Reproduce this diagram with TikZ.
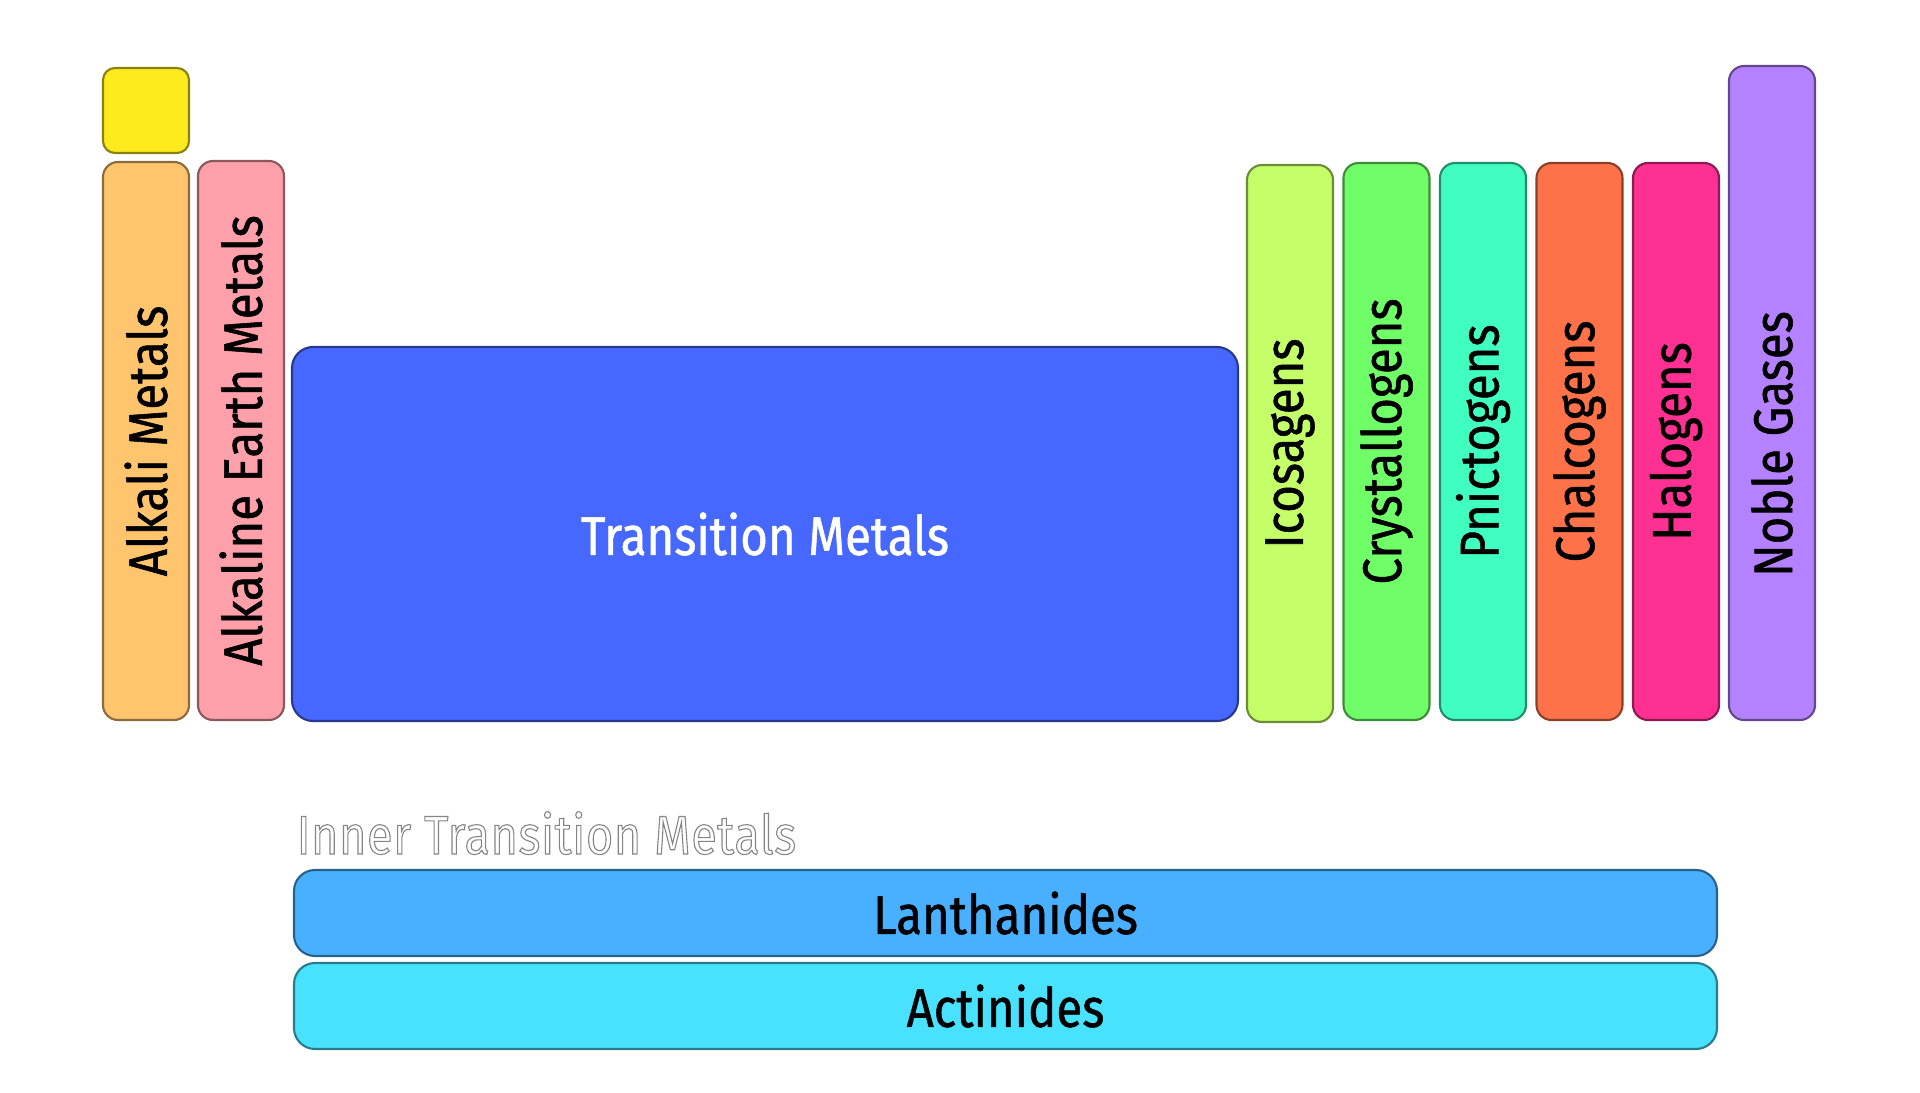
\documentclass[tikz,border=0pt]{standalone}
\usepackage{fontspec}
\setmainfont[FakeStretch=0.87,FakeBold=1.0]{Fira Sans}
\newfontfamily\innerfont[FakeStretch=0.86,LetterSpace=1,FakeBold=2.0]{Fira Sans}
\usetikzlibrary{positioning}
\definecolor{hydrogen}{RGB}{253,235,30}
\definecolor{alkali}{RGB}{254,196,110}
\definecolor{earth}{RGB}{253,160,170}
\definecolor{transition}{RGB}{70,104,254}
\definecolor{icosa}{RGB}{196,254,104}
\definecolor{crystallo}{RGB}{112,254,104}
\definecolor{pnicto}{RGB}{64,254,192}
\definecolor{chalco}{RGB}{254,114,74}
\definecolor{halo}{RGB}{254,48,146}
\definecolor{noble}{RGB}{180,130,254}
\definecolor{lanth}{RGB}{72,176,254}
\definecolor{actin}{RGB}{72,226,254}
\newcommand\hollowtext[1]{{\color{white}\special{pdf:literal direct 0.52 0.52 0.52 RG}#1}}

\begin{document}
\begin{tikzpicture}[x=0.1mm,y=-0.1mm,
  cell/.style={draw=#1!55!black,fill=#1,rounded corners=1.5mm,
               line width=0.6pt,inner sep=0pt},
  bar/.style={cell=#1,rotate=90,minimum height=8.6mm,
              font=\fontsize{15.5}{18}\selectfont},
  wide/.style={cell=#1,rounded corners=2.1mm,minimum width=142.3mm,
               minimum height=8.6mm,font=\fontsize{15.5}{18}\selectfont}
]
\useasboundingbox (0,0) rectangle (1920,1093);
% left block
\node[cell=hydrogen,rounded corners=1.2mm,minimum width=8.6mm,minimum height=8.5mm] (hyd) at (146,110.5) {};
\node[bar=alkali,minimum width=55.8mm] (alk) at (146,441) {Alkali Metals};
\node[bar=earth,minimum width=55.9mm] (ear) at (241,440.5) {Alkaline Earth Metals};
% d block
\node[cell=transition,rounded corners=2.1mm,minimum width=94.6mm,minimum height=37.4mm,
      font=\fontsize{15.5}{18}\selectfont,text=white] (trm) at (765,534) {Transition Metals};
% p block
\node[bar=icosa,minimum width=55.7mm] (ico) at (1290,443.5) {Icosagens};
\node[bar=crystallo,minimum width=55.7mm] (cry) at (1386.5,441.5) {Crystallogens};
\node[bar=pnicto,minimum width=55.7mm] (pni) at (1483,441.5) {Pnictogens};
\node[bar=chalco,minimum width=55.7mm] (cha) at (1579.5,441.5) {Chalcogens};
\node[bar=halo,minimum width=55.7mm] (hal) at (1676,441.5) {Halogens};
\node[bar=noble,minimum width=65.4mm] (nob) at (1772,393) {Noble Gases\hspace*{10.2mm}};
% f block
\node[anchor=base west,inner sep=0pt,font=\innerfont\fontsize{15.5}{18}\selectfont] (itm) at (296,854)
  {\hollowtext{Inner Transition Metals}};
\node[wide=lanth] (lan) at (1005.5,913) {Lanthanides};
\node[wide=actin] (act) at (1005.5,1006) {Actinides};
\end{tikzpicture}
\end{document}
